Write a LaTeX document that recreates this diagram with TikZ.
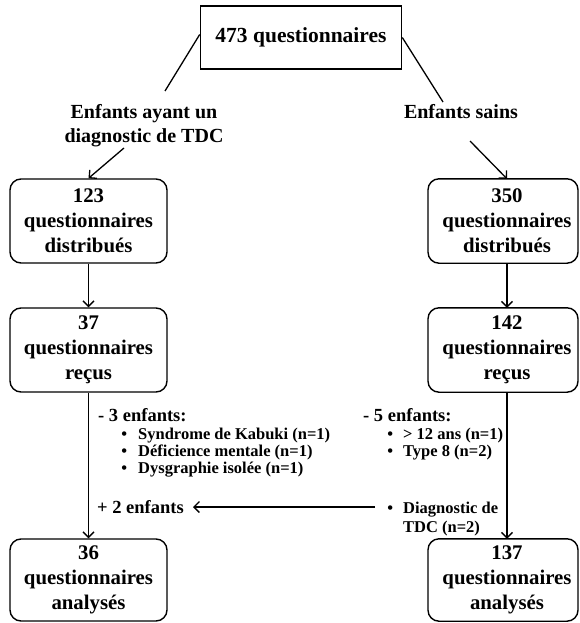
\documentclass[tikz,border=0pt]{standalone}
\usepackage{fontspec}
\setmainfont{Liberation Serif}
\usetikzlibrary{arrows.meta,calc}
\begin{document}
\begin{tikzpicture}[x=1pt,y=-1pt,
  btext/.style={inner sep=0pt,align=center,minimum height=84pt,
    font=\bfseries\fontsize{20.8}{25}\selectfont},
  lbox/.style={btext,draw,line width=1.4pt,rounded corners=11pt,minimum width=157pt},
  frame/.style={draw,line width=1.4pt,rounded corners=11pt},
  topbox/.style={draw,line width=1.6pt,minimum width=201pt,minimum height=63pt,
    inner sep=0pt,font=\bfseries\fontsize{21.5}{25}\selectfont},
  lbl/.style={inner sep=0pt,align=center,font=\bfseries\fontsize{20}{24}\selectfont},
  hdr/.style={inner sep=0pt,anchor=base west,font=\bfseries\fontsize{18.5}{18}\selectfont},
  itm/.style={inner sep=0pt,anchor=base west,font=\bfseries\fontsize{16.5}{16}\selectfont},
  conn/.style={line width=1.3pt},
  arr/.style={conn,-{Straight Barb[length=5.5pt,width=11pt,line width=1.3pt]}}
]
\useasboundingbox (0,0) rectangle (579,623);

% top
\node[topbox] (top) at (301,37.5) {473 questionnaires};

% labels
\node[lbl,anchor=base] (lblL1) at (144,118) {Enfants ayant un};
\node[lbl,anchor=base] (lblL2) at (144,142) {diagnostic de TDC};
\node[lbl,anchor=base] (lblR) at (461,118) {Enfants sains};

% left boxes
\node[lbox] (b123) at (88.5,221) {123\\questionnaires\\distribués};
\node[lbox] (b37)  at (88.5,350) {37\\questionnaires\\reçus};
\node[lbox,minimum height=82pt] (b36) at (88.5,580) {36\\questionnaires\\analysés};

% right boxes (text slightly right of frame centre, as in the reference)
\node[btext] (b350) at (507,221) {350\\questionnaires\\distribués};
\node[btext] (b142) at (507,350) {142\\questionnaires\\reçus};
\node[btext,minimum height=82pt] (b137) at (507,580) {137\\questionnaires\\analysés};
\draw[frame] ([xshift=-79pt]b350.north) rectangle ([xshift=71pt]b350.south);
\draw[frame] ([xshift=-79pt]b142.north) rectangle ([xshift=71pt]b142.south);
\draw[frame] ([xshift=-79pt]b137.north) rectangle ([xshift=71pt]b137.south);

% top connectors
\coordinate (la) at (165,91);
\coordinate (lb) at (124,148);
\coordinate (ra) at (443,102);
\coordinate (rb) at (470,141);
\draw[conn] ([yshift=3pt]top.west) -- (la);
\draw[arr] (lb) -- (b123.north);
\draw[conn] (top.east) -- (ra);
\draw[arr] (rb) -- (b350.north);

% vertical connectors
\draw[arr] (b123.south) -- (b37.north);
\draw[arr] (b37.south) -- (b36.north);
\draw[arr] (b350.south) -- (b142.north);
\draw[arr] (b142.south) -- (b137.north);

% exclusions left
\node[hdr] (m3) at (98,421) {- 3 enfants:};
\node[itm] (m3a) at (138,439) {\llap{\textbullet\hspace{11pt}}Syndrome de Kabuki (n=1)};
\node[itm] (m3b) at (138,456) {\llap{\textbullet\hspace{11pt}}Déficience mentale (n=1)};
\node[itm] (m3c) at (138,473) {\llap{\textbullet\hspace{11pt}}Dysgraphie isolée (n=1)};

% exclusions right
\node[hdr] (m5) at (363,421) {- 5 enfants:};
\node[itm] (m5a) at (403,439) {\llap{\textbullet\hspace{10pt}}> 12 ans (n=1)};
\node[itm] (m5b) at (403,456) {\llap{\textbullet\hspace{10pt}}Type 8 (n=2)};

% transfer
\node[hdr] (p2) at (97,513) {+ 2 enfants};
\node[itm] (dg1) at (403,513) {\llap{\textbullet\hspace{10pt}}Diagnostic de};
\node[itm] (dg2) at (403,532) {TDC (n=2)};
\draw[arr] ([xshift=-28pt,yshift=6pt]dg1.base west) -- ([xshift=9pt,yshift=6pt]p2.base east);
\end{tikzpicture}
\end{document}
